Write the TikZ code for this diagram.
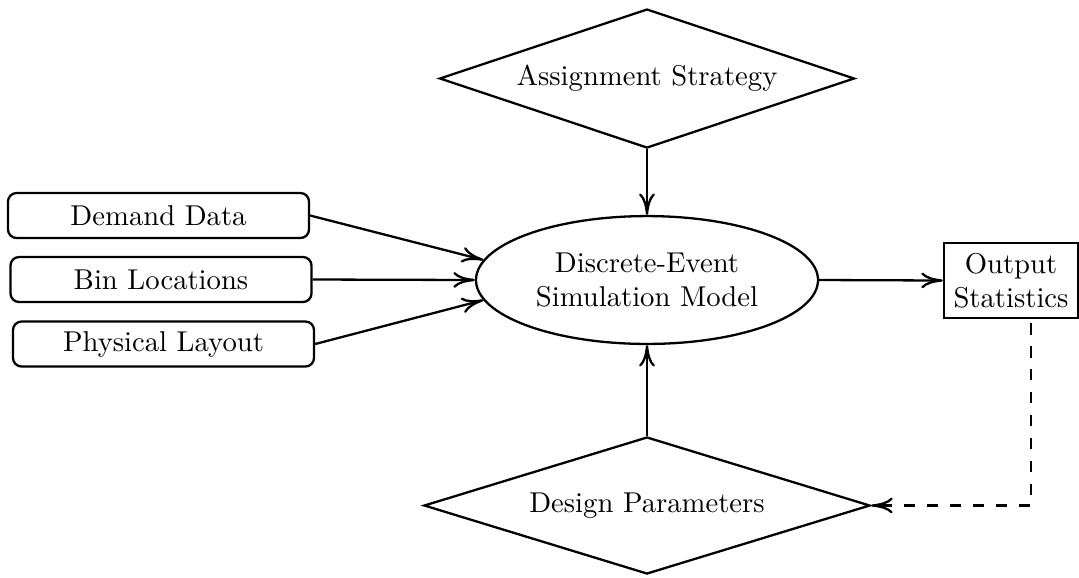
\documentclass[tikz,border=0pt]{standalone}
\usetikzlibrary{shapes.geometric, arrows.meta}
\begin{document}
\begin{tikzpicture}[x=0.3488pt, y=-0.3488pt, thick, >={Computer Modern Rightarrow[length=7.5pt,width=5.5pt]},
  inbox/.style={draw, rounded corners=3pt, minimum width=105pt, minimum height=15.7pt},
  decision/.style={draw, diamond, aspect=3, inner sep=0pt},
  model/.style={draw, ellipse, align=center, inner sep=0pt, minimum width=119.3pt, minimum height=44.6pt},
  outbox/.style={draw, align=center}]
\useasboundingbox (0,0) rectangle (1079,577);
%\draw[very thin, gray] (0,0) grid[step=50] (1079,577);
\node[model] (sim) at (647,280) {Discrete-Event\\Simulation Model};
\node[decision, minimum width=144.7pt, minimum height=48.5pt] (assign) at (647,78.5) {Assignment Strategy};
\node[decision, minimum width=155.6pt, minimum height=47.8pt] (design) at (647,505.5) {Design Parameters};
\node[inbox] (demand) at (158.5,215.5) {Demand Data};
\node[inbox] (bins) at (161,279.5) {Bin Locations};
\node[inbox] (layout) at (163.5,344) {Physical Layout};
\node[outbox] (outstat) at (1011,280.5) {Output\\Statistics};
\draw[->] (demand.east)--(sim.173);
\draw[->] (bins.east)--(sim.west);
\draw[->] (layout.east)--(sim.187);
\draw[->] (assign.south)--(sim.north);
\draw[->] (design.north)--(sim.south);
\draw[->] (sim.east)--(outstat.west);
\draw[->, dash pattern=on 4pt off 4pt, shorten <=1.5pt] ([xshift=7pt]outstat.south) |- (design.east);
\end{tikzpicture}
\end{document}
